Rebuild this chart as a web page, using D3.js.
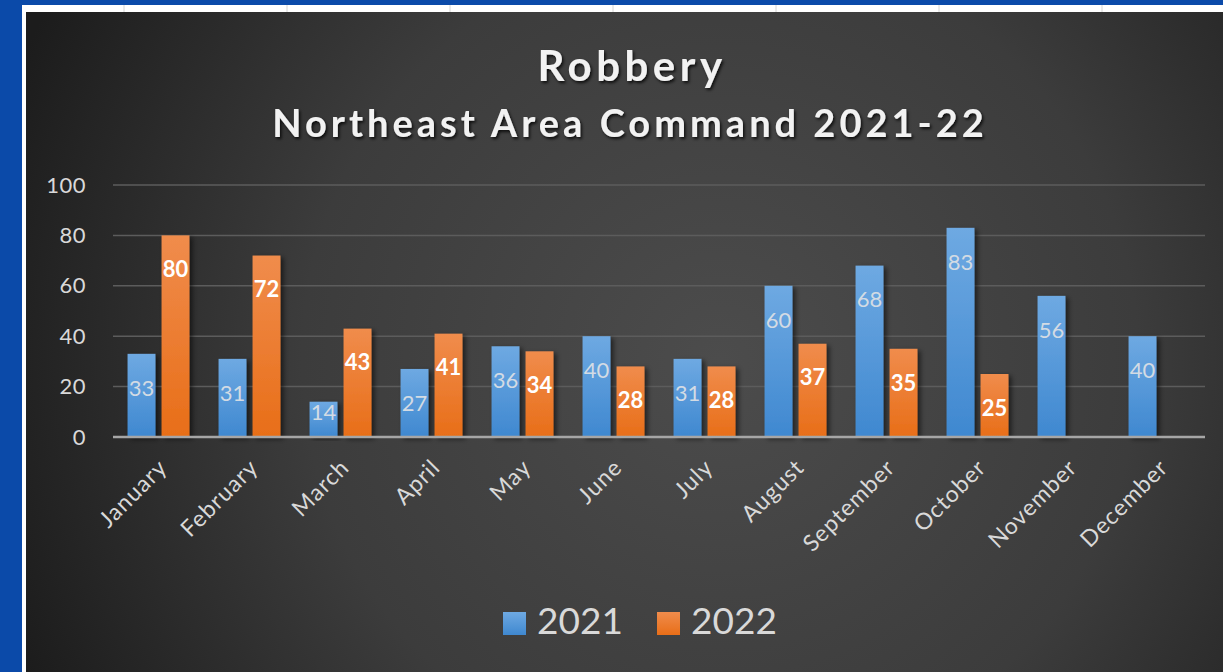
<!DOCTYPE html>
<html>
<head>
<meta charset="utf-8">
<script src="https://cdn.jsdelivr.net/npm/d3@7"></script>
<style>
  html, body { margin: 0; padding: 0; background: #0b4aa9; overflow: hidden; }
  svg { display: block; }
</style>
</head>
<body>
<svg id="chart" width="1223" height="672"></svg>
<script>
// Data
const months = ['January', 'February', 'March', 'April', 'May', 'June',
  'July', 'August', 'September', 'October', 'November', 'December'];
const series = ['2021', '2022'];
const values2021 = [33, 31, 14, 27, 36, 40, 31, 60, 68, 83, 56, 40];
const values2022 = [80, 72, 43, 41, 34, 28, 28, 37, 35, 25, null, null];
const yTicks = [0, 20, 40, 60, 80, 100];

const svg = d3.select('#chart');
const W = 1223, H = 672;

// Frame of the chart inside the sheet
const frame = { x: 26, y: 12, w: W - 26, h: H - 12 };
const margin = { top: 185 - frame.y, left: 113 - frame.x, right: frame.w - (1205 - frame.x), bottom: frame.h - (437 - frame.y) };

const defs = svg.append('defs');

const bg = defs.append('radialGradient')
  .attr('id', 'bg')
  .attr('gradientUnits', 'userSpaceOnUse')
  .attr('cx', 720).attr('cy', 360).attr('r', 760);
bg.append('stop').attr('offset', '0%').attr('stop-color', '#4c4c4c');
bg.append('stop').attr('offset', '55%').attr('stop-color', '#3c3c3c');
bg.append('stop').attr('offset', '100%').attr('stop-color', '#1c1c1c');

const gBlue = defs.append('linearGradient').attr('id', 'gBlue')
  .attr('x1', 0).attr('y1', 0).attr('x2', 0).attr('y2', 1);
gBlue.append('stop').attr('offset', '0%').attr('stop-color', '#6ea9e2');
gBlue.append('stop').attr('offset', '100%').attr('stop-color', '#3f88d0');

const gOrange = defs.append('linearGradient').attr('id', 'gOrange')
  .attr('x1', 0).attr('y1', 0).attr('x2', 0).attr('y2', 1);
gOrange.append('stop').attr('offset', '0%').attr('stop-color', '#f08c4c');
gOrange.append('stop').attr('offset', '100%').attr('stop-color', '#e86e18');

const shadow = defs.append('filter').attr('id', 'shadow')
  .attr('x', '-30%').attr('y', '-10%').attr('width', '160%').attr('height', '120%');
shadow.append('feDropShadow')
  .attr('dx', 3).attr('dy', 2).attr('stdDeviation', 2.5)
  .attr('flood-color', '#000').attr('flood-opacity', 0.55);

const textShadow = defs.append('filter').attr('id', 'tshadow')
  .attr('x', '-10%').attr('y', '-20%').attr('width', '120%').attr('height', '150%');
textShadow.append('feDropShadow')
  .attr('dx', 1.5).attr('dy', 2).attr('stdDeviation', 1.5)
  .attr('flood-color', '#000').attr('flood-opacity', 0.8);

// Sheet strip above the chart
svg.append('rect')
  .attr('x', 22).attr('y', 5).attr('width', W - 22).attr('height', H - 5)
  .attr('fill', '#ffffff');
svg.selectAll('.cell')
  .data([124, 287, 450, 613, 776, 939, 1102])
  .join('line')
    .attr('x1', d => d).attr('x2', d => d)
    .attr('y1', 5).attr('y2', 12)
    .attr('stroke', '#d4d4d4');

// Chart area
svg.append('rect')
  .attr('x', frame.x).attr('y', frame.y)
  .attr('width', frame.w).attr('height', frame.h)
  .attr('fill', 'url(#bg)');

const g = svg.append('g')
  .attr('transform', `translate(${frame.x + margin.left},${frame.y + margin.top})`);
const width = frame.w - margin.left - margin.right;
const height = frame.h - margin.top - margin.bottom;

// Scales
const x0 = d3.scaleBand()
  .domain(months)
  .range([0, width])
  .paddingInner(0.32)
  .paddingOuter(0.16);
const x1 = d3.scaleBand()
  .domain(series)
  .range([0, x0.bandwidth()])
  .paddingInner(0.18);
const y = d3.scaleLinear()
  .domain([0, 100])
  .range([height, 0]);

// Gridlines
g.append('g')
  .selectAll('line')
  .data(yTicks.filter(d => d > 0))
  .join('line')
    .attr('x1', 0).attr('x2', width)
    .attr('y1', d => y(d)).attr('y2', d => y(d))
    .attr('stroke', '#5c5c5c')
    .attr('stroke-width', 1.5);

// Y axis
const yAxis = g.append('g')
  .call(d3.axisLeft(y).tickValues(yTicks).tickSize(0).tickPadding(27));
yAxis.select('.domain').remove();
yAxis.selectAll('text')
  .attr('fill', '#d9d9d9')
  .style('font-family', 'Lato, "Open Sans", sans-serif')
  .style('font-size', '22px')
  .style('letter-spacing', '0.5px');

// Bars
const rows = months.map((m, i) => ({ month: m, vals: [values2021[i], values2022[i]] }));
const groups = g.selectAll('.group')
  .data(rows)
  .join('g')
    .attr('transform', d => `translate(${x0(d.month)},0)`);

const bars = groups.selectAll('rect')
  .data(d => series.map((s, k) => ({ series: s, value: d.vals[k] })).filter(d => d.value != null))
  .join('rect')
    .attr('x', d => x1(d.series))
    .attr('width', x1.bandwidth())
    .attr('y', d => y(d.value))
    .attr('height', d => height - y(d.value))
    .attr('fill', d => d.series === '2021' ? 'url(#gBlue)' : 'url(#gOrange)')
    .attr('filter', 'url(#shadow)');

// Data labels
groups.selectAll('text')
  .data(d => series.map((s, k) => ({ series: s, value: d.vals[k] })).filter(d => d.value != null))
  .join('text')
    .attr('x', d => x1(d.series) + x1.bandwidth() / 2)
    .attr('y', d => Math.min(y(d.value) + 34, height - 25))
    .attr('dy', '0.35em')
    .attr('text-anchor', 'middle')
    .attr('fill', d => d.series === '2021' ? '#d3dbe4' : '#ffffff')
    .style('font-family', 'Lato, "Open Sans", sans-serif')
    .style('font-size', '22px')
    .style('font-weight', d => d.series === '2021' ? 400 : 700)
    .text(d => d.value);

// Baseline
g.append('line')
  .attr('x1', 0).attr('x2', width)
  .attr('y1', height).attr('y2', height)
  .attr('stroke', '#a6a6a6')
  .attr('stroke-width', 2.5);

// X axis labels
const xAxis = g.append('g')
  .attr('transform', `translate(0,${height})`)
  .call(d3.axisBottom(x0).tickSize(0).tickPadding(0));
xAxis.select('.domain').remove();
xAxis.selectAll('text')
  .attr('text-anchor', 'end')
  .attr('dy', 0)
  .attr('transform', 'translate(10,32) rotate(-45)')
  .attr('fill', '#d9d9d9')
  .style('font-family', 'Lato, "Open Sans", sans-serif')
  .style('font-size', '23px')
  .style('letter-spacing', '1px');

// Titles
svg.append('text')
  .attr('x', 632).attr('y', 81)
  .attr('text-anchor', 'middle')
  .attr('fill', '#f2f2f2')
  .attr('filter', 'url(#tshadow)')
  .style('font-family', 'Lato, "Open Sans", sans-serif')
  .style('font-size', '42px')
  .style('font-weight', 700)
  .style('letter-spacing', '4.5px')
  .text('Robbery');
svg.append('text')
  .attr('x', 630).attr('y', 137)
  .attr('text-anchor', 'middle')
  .attr('fill', '#f2f2f2')
  .attr('filter', 'url(#tshadow)')
  .style('font-family', 'Lato, "Open Sans", sans-serif')
  .style('font-size', '38px')
  .style('font-weight', 700)
  .style('letter-spacing', '4px')
  .text('Northeast Area Command 2021-22');

// Legend
const legendX = [503, 657];
const legend = svg.append('g');
series.forEach((s, k) => {
  legend.append('rect')
    .attr('x', legendX[k]).attr('y', 612)
    .attr('width', 23).attr('height', 23)
    .attr('fill', k === 0 ? 'url(#gBlue)' : 'url(#gOrange)');
  legend.append('text')
    .attr('x', legendX[k] + 34).attr('y', 634)
    .attr('fill', '#d9d9d9')
    .style('font-family', 'Lato, "Open Sans", sans-serif')
    .style('font-size', '37px')
    .text(s);
});
</script>
</body>
</html>
